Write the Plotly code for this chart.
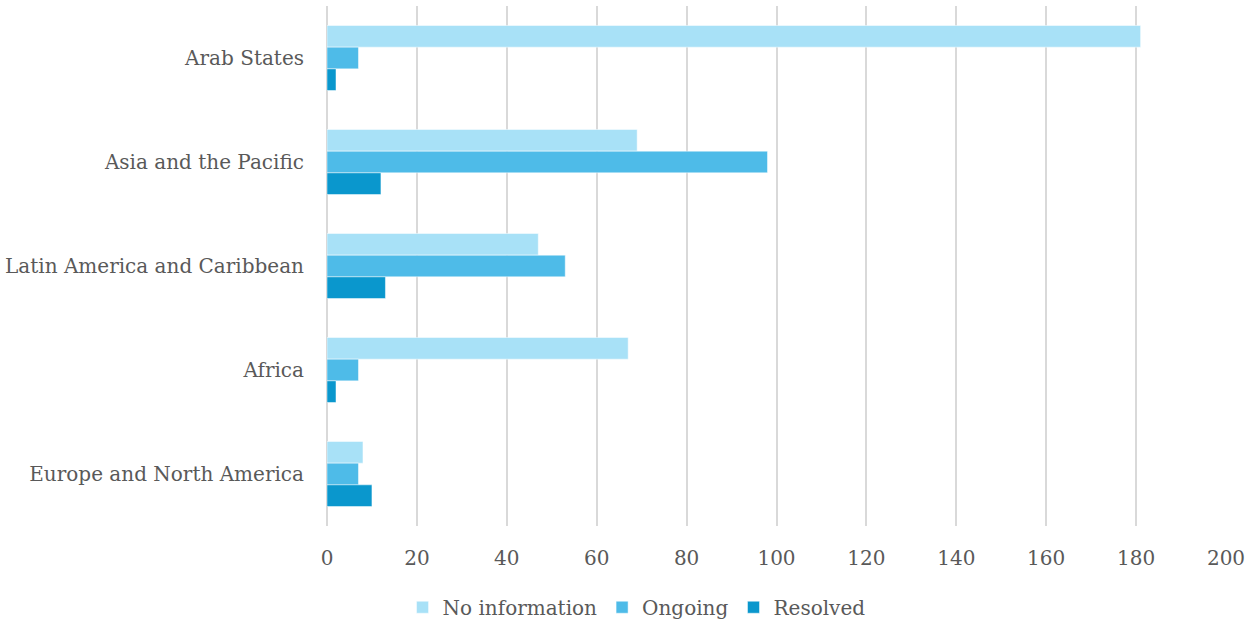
import plotly.graph_objects as go

regions = ["Arab States", "Asia and the Pacific", "Latin America and Caribbean",
           "Africa", "Europe and North America"]
no_information = [181, 69, 47, 67, 8]
ongoing = [7, 98, 53, 7, 7]
resolved = [2, 12, 13, 2, 10]

series = [
    ("No information", no_information, "#A8E1F7"),
    ("Ongoing", ongoing, "#4EBBE8"),
    ("Resolved", resolved, "#0A97CD"),
]

fig = go.Figure()
for name, values, color in series:
    fig.add_trace(go.Bar(
        y=regions, x=values, name=name, orientation="h",
        marker=dict(color=color, line=dict(color="rgba(255,255,255,0.6)", width=0.8)),
    ))

font_family = "DejaVu Serif"
fig.update_layout(
    width=1258, height=626,
    margin=dict(l=327, r=32, t=6, b=100),
    barmode="group", bargap=0.375, bargroupgap=0,
    plot_bgcolor="white", paper_bgcolor="white",
    font=dict(family=font_family, size=20, color="#595959"),
    showlegend=True,
    legend=dict(
        orientation="h", xref="container", yref="container",
        x=0.506, xanchor="center", y=0.03, yanchor="middle",
        font=dict(size=20, color="#595959"), traceorder="normal",
        itemwidth=30,
    ),
    xaxis=dict(
        range=[0, 200], dtick=20, showgrid=True, gridcolor="#D9D9D9", gridwidth=2,
        zeroline=True, zerolinecolor="#D9D9D9", zerolinewidth=2,
        showline=False, ticks="", ticklabelstandoff=18,
    ),
    yaxis=dict(
        categoryorder="array", categoryarray=regions, autorange="reversed",
        showgrid=False, showline=False, ticks="", ticklabelstandoff=22,
    ),
)

fig.write_html("out.html")
